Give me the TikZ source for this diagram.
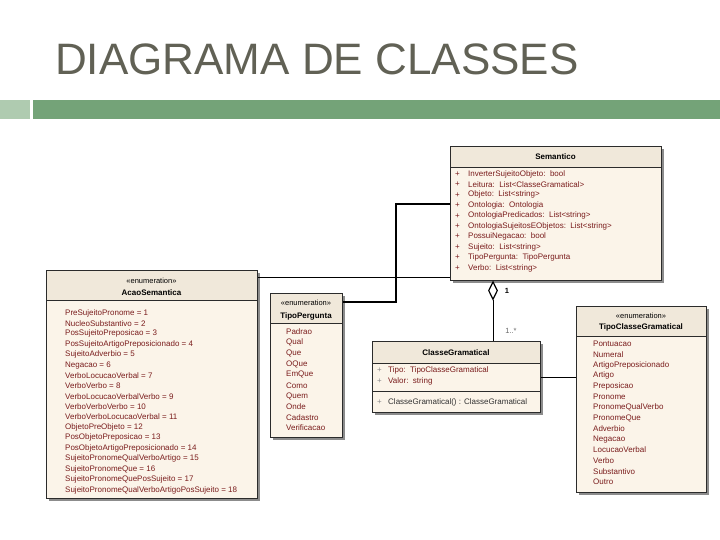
\documentclass[tikz,border=0pt]{standalone}
\usepackage{fontspec}
\setmainfont{Liberation Sans}
\usetikzlibrary{shapes.geometric,shadows,calc}
\definecolor{titlec}{HTML}{616155}
\definecolor{barlight}{HTML}{AFCBB0}
\definecolor{bardark}{HTML}{74A378}
\definecolor{boxbody}{HTML}{FBF4E9}
\definecolor{boxhead}{HTML}{F0E8DA}
\definecolor{itemred}{HTML}{7A1C1C}
\definecolor{edgec}{HTML}{2B2B2B}
\tikzset{
  cls/.style={draw=edgec, line width=0.8pt, fill=boxbody, inner sep=0pt, anchor=north west,
    drop shadow={shadow xshift=3pt, shadow yshift=-3pt, fill=black!45, opacity=1}},
  hdr/.style={fill=boxhead},
  sepl/.style={draw=edgec, line width=0.8pt},
  item/.style={anchor=west, inner sep=0pt, text=itemred, font=\fontsize{8}{9}\selectfont},
  plus/.style={anchor=west, inner sep=0pt, text=itemred, font=\fontsize{8}{9}\selectfont},
  gplus/.style={anchor=west, inner sep=0pt, text=black!45, font=\fontsize{8}{9}\selectfont},
  stereo/.style={inner sep=0pt, font=\fontsize{7.5}{9}\selectfont},
  cname/.style={inner sep=0pt, font=\fontsize{8}{9}\selectfont\bfseries},
  conn/.style={draw=black, line width=0.9pt},
  connthick/.style={draw=black, line width=2pt},
  mult/.style={inner sep=0pt, font=\fontsize{7.5}{9}\selectfont},
}
\begin{document}
\begin{tikzpicture}[x=1pt,y=-1pt]
\useasboundingbox (0,0) rectangle (720,540);
% title and bar
\node[anchor=base west, inner sep=0pt, text=titlec, font=\fontsize{44}{50}\selectfont] (title) at (55,75) {DIAGRAMA DE CLASSES};
\fill[barlight] (0,100) rectangle (30,119);
\fill[bardark] (33,100) rectangle (720,119);

% ---------- Semantico ----------
\node[cls, minimum width=211pt, minimum height=134pt] (sem) at (450,146) {};
\fill[hdr] ([shift={(0.4pt,-0.4pt)}]sem.north west) rectangle ([shift={(-0.4pt,-21pt)}]sem.north east);
\draw[sepl] (sem.north west) rectangle (sem.south east);
\draw[sepl] ([yshift=-21pt]sem.north west) -- ([yshift=-21pt]sem.north east);
\node[cname] (semT) at (555.5,157) {Semantico};
\foreach \t [count=\i from 0] in {InverterSujeitoObjeto:\ \ bool, Leitura:\ \ List<ClasseGramatical>, Objeto:\ \ List<string>, Ontologia:\ \ Ontologia, OntologiaPredicados:\ \ List<string>, OntologiaSujeitosEObjetos:\ \ List<string>, PossuiNegacao:\ \ bool, Sujeito:\ \ List<string>, TipoPergunta:\ \ TipoPergunta, Verbo:\ \ List<string>}{
  \node[plus] (semP\i) at (455,{174+\i*10.44}) {+};
  \node[item] (semI\i) at (468,{174+\i*10.44}) {\t};
}

% ---------- AcaoSemantica ----------
\node[cls, minimum width=211pt, minimum height=228pt] (acao) at (46,270) {};
\fill[hdr] ([shift={(0.4pt,-0.4pt)}]acao.north west) rectangle ([shift={(-0.4pt,-30pt)}]acao.north east);
\draw[sepl] (acao.north west) rectangle (acao.south east);
\draw[sepl] ([yshift=-30pt]acao.north west) -- ([yshift=-30pt]acao.north east);
\node[stereo] (acaoS) at (151.5,281) {«enumeration»};
\node[cname] (acaoT) at (151.5,293) {AcaoSemantica};
\foreach \t [count=\i from 0] in {PreSujeitoPronome = 1, NucleoSubstantivo = 2, PosSujeitoPreposicao = 3, PosSujeitoArtigoPreposicionado = 4, SujeitoAdverbio = 5, Negacao = 6, VerboLocucaoVerbal = 7, VerboVerbo = 8, VerboLocucaoVerbalVerbo = 9, VerboVerboVerbo = 10, VerboVerboLocucaoVerbal = 11, ObjetoPreObjeto = 12, PosObjetoPreposicao = 13, PosObjetoArtigoPreposicionado = 14, SujeitoPronomeQualVerboArtigo = 15, SujeitoPronomeQue = 16, SujeitoPronomeQuePosSujeito = 17, SujeitoPronomeQualVerboArtigoPosSujeito = 18}{
  \node[item] (acaoI\i) at (65,{313+\i*10.41}) {\t};
}

% ---------- TipoPergunta ----------
\node[cls, minimum width=72pt, minimum height=144pt] (tp) at (270,293) {};
\fill[hdr] ([shift={(0.4pt,-0.4pt)}]tp.north west) rectangle ([shift={(-0.4pt,-30pt)}]tp.north east);
\draw[sepl] (tp.north west) rectangle (tp.south east);
\draw[sepl] ([yshift=-30pt]tp.north west) -- ([yshift=-30pt]tp.north east);
\node[stereo] (tpS) at (306,303) {«enumeration»};
\node[cname] (tpT) at (306,316) {TipoPergunta};
\foreach \t [count=\i from 0] in {Padrao, Qual, Que, OQue, EmQue, Como, Quem, Onde, Cadastro, Verificacao}{
  \node[item] (tpI\i) at (286,{332+\i*10.67}) {\t};
}

% ---------- ClasseGramatical ----------
\node[cls, minimum width=168pt, minimum height=71pt] (cg) at (372,341) {};
\fill[hdr] ([shift={(0.4pt,-0.4pt)}]cg.north west) rectangle ([shift={(-0.4pt,-22pt)}]cg.north east);
\draw[sepl] (cg.north west) rectangle (cg.south east);
\draw[sepl] ([yshift=-22pt]cg.north west) -- ([yshift=-22pt]cg.north east);
\draw[sepl] ([yshift=-50pt]cg.north west) -- ([yshift=-50pt]cg.north east);
\node[cname] (cgT) at (456,353) {ClasseGramatical};
\node[gplus] (cgP0) at (377,370) {+};
\node[item] (cgI0) at (388,370) {Tipo:\ \ TipoClasseGramatical};
\node[gplus] (cgP1) at (377,381) {+};
\node[item] (cgI1) at (388,381) {Valor:\ \ string};
\node[gplus] (cgP2) at (377,402) {+};
\node[item, text=black!80] (cgO0) at (388,402) {ClasseGramatical() : ClasseGramatical};

% ---------- TipoClasseGramatical ----------
\node[cls, minimum width=130pt, minimum height=186pt] (tcg) at (576,306) {};
\fill[hdr] ([shift={(0.4pt,-0.4pt)}]tcg.north west) rectangle ([shift={(-0.4pt,-30pt)}]tcg.north east);
\draw[sepl] (tcg.north west) rectangle (tcg.south east);
\draw[sepl] ([yshift=-30pt]tcg.north west) -- ([yshift=-30pt]tcg.north east);
\node[stereo] (tcgS) at (641,316) {«enumeration»};
\node[cname] (tcgT) at (641,327) {TipoClasseGramatical};
\foreach \t [count=\i from 0] in {Pontuacao, Numeral, ArtigoPreposicionado, Artigo, Preposicao, Pronome, PronomeQualVerbo, PronomeQue, Adverbio, Negacao, LocucaoVerbal, Verbo, Substantivo, Outro}{
  \node[item] (tcgI\i) at (593,{344+\i*10.6}) {\t};
}

% ---------- connectors ----------
\coordinate (j1) at (396,204);
\coordinate (j2) at (396,302);
\draw[connthick] (sem.west |- j1) -- (j1) -- (j2) -- (tp.east |- j2);
\coordinate (a1) at (0,277);
\draw[conn] (acao.east |- a1) -- (sem.west |- a1);
\coordinate (c1) at (0,377);
\draw[conn] (cg.east |- c1) -- (tcg.west |- c1);
\node[diamond, draw=black, line width=1.2pt, fill=white, minimum width=9pt, minimum height=18pt, inner sep=0pt, anchor=north] (dia) at (493,281) {};
\draw[conn] (dia.south) -- (dia.south |- cg.north);
\node[mult, font=\fontsize{7.5}{9}\selectfont\bfseries] (m1) at (507,291) {1};
\node[mult, text=black!60] (m2) at (511,331) {1..*};
\end{tikzpicture}
\end{document}
